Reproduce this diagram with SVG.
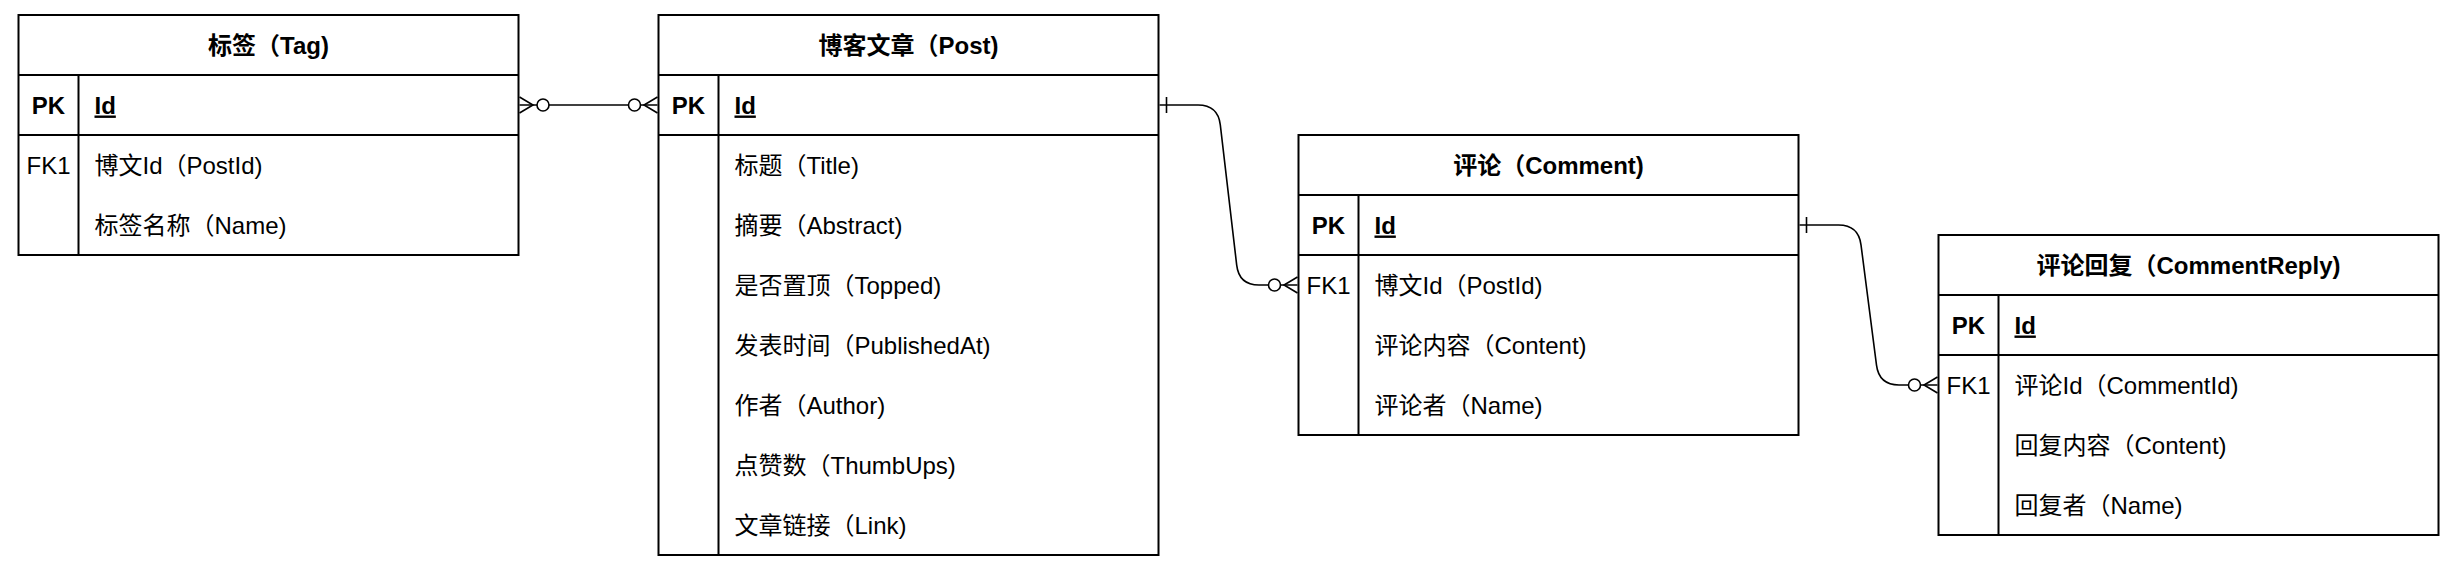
<svg xmlns="http://www.w3.org/2000/svg" width="2456" height="572" viewBox="0 0 2456 572">
<style>
.box{fill:#fff;stroke:#000;stroke-width:2}
.ln{stroke:#000;stroke-width:2;fill:none}
.t{font-family:"Liberation Sans","Noto Sans CJK SC",sans-serif;font-size:24px;fill:#000}
.title{font-weight:bold;text-anchor:middle}
.key{text-anchor:middle}
.b{font-weight:bold}
.u{text-decoration:underline}
.edge{stroke:#000;stroke-width:1.6;fill:none}
.circ{stroke:#000;stroke-width:1.6;fill:#fff}
</style>
<rect width="2456" height="572" fill="#fff"/>

<g id="tag">
<rect class="box" x="18.5" y="15" width="500" height="240"/>
<line class="ln" x1="18.5" y1="75" x2="518.5" y2="75"/>
<line class="ln" x1="18.5" y1="135" x2="518.5" y2="135"/>
<line class="ln" x1="78.5" y1="75" x2="78.5" y2="255"/>
<text class="t title" x="268.5" y="54">标签（Tag)</text>
<text class="t key b" x="48.5" y="113.5">PK</text>
<text class="t b u" x="94.5" y="113.5">Id</text>
<text class="t key" x="48.5" y="173.5">FK1</text>
<text class="t" x="94.5" y="173.5">博文Id（PostId)</text>
<text class="t" x="94.5" y="233.5">标签名称（Name)</text>
</g>

<g id="post">
<rect class="box" x="658.5" y="15" width="500" height="540"/>
<line class="ln" x1="658.5" y1="75" x2="1158.5" y2="75"/>
<line class="ln" x1="658.5" y1="135" x2="1158.5" y2="135"/>
<line class="ln" x1="718.5" y1="75" x2="718.5" y2="555"/>
<text class="t title" x="908.5" y="54">博客文章（Post)</text>
<text class="t key b" x="688.5" y="113.5">PK</text>
<text class="t b u" x="734.5" y="113.5">Id</text>
<text class="t" x="734.5" y="173.5">标题（Title)</text>
<text class="t" x="734.5" y="233.5">摘要（Abstract)</text>
<text class="t" x="734.5" y="293.5">是否置顶（Topped)</text>
<text class="t" x="734.5" y="353.5">发表时间（PublishedAt)</text>
<text class="t" x="734.5" y="413.5">作者（Author)</text>
<text class="t" x="734.5" y="473.5">点赞数（ThumbUps)</text>
<text class="t" x="734.5" y="533.5">文章链接（Link)</text>
</g>

<g id="comment">
<rect class="box" x="1298.5" y="135" width="500" height="300"/>
<line class="ln" x1="1298.5" y1="195" x2="1798.5" y2="195"/>
<line class="ln" x1="1298.5" y1="255" x2="1798.5" y2="255"/>
<line class="ln" x1="1358.5" y1="195" x2="1358.5" y2="435"/>
<text class="t title" x="1548.5" y="174">评论（Comment)</text>
<text class="t key b" x="1328.5" y="233.5">PK</text>
<text class="t b u" x="1374.5" y="233.5">Id</text>
<text class="t key" x="1328.5" y="293.5">FK1</text>
<text class="t" x="1374.5" y="293.5">博文Id（PostId)</text>
<text class="t" x="1374.5" y="353.5">评论内容（Content)</text>
<text class="t" x="1374.5" y="413.5">评论者（Name)</text>
</g>

<g id="commentreply">
<rect class="box" x="1938.5" y="235" width="500" height="300"/>
<line class="ln" x1="1938.5" y1="295" x2="2438.5" y2="295"/>
<line class="ln" x1="1938.5" y1="355" x2="2438.5" y2="355"/>
<line class="ln" x1="1998.5" y1="295" x2="1998.5" y2="535"/>
<text class="t title" x="2188.5" y="274">评论回复（CommentReply)</text>
<text class="t key b" x="1968.5" y="333.5">PK</text>
<text class="t b u" x="2014.5" y="333.5">Id</text>
<text class="t key" x="1968.5" y="393.5">FK1</text>
<text class="t" x="2014.5" y="393.5">评论Id（CommentId)</text>
<text class="t" x="2014.5" y="453.5">回复内容（Content)</text>
<text class="t" x="2014.5" y="513.5">回复者（Name)</text>
</g>

<g id="connectors">
<!-- Tag - Post (many to many) -->
<path class="edge" d="M519.5,105 L657.5,105"/>
<path class="edge" d="M519.5,97 L533,105 L519.5,113"/>
<circle class="circ" cx="543" cy="105" r="6"/>
<path class="edge" d="M657.5,97 L644,105 L657.5,113"/>
<circle class="circ" cx="634.5" cy="105" r="6"/>

<!-- Post - Comment -->
<path class="edge" d="M1159.5,105 L1198,105 Q1218,105 1220.3,124.9 L1236.7,265.1 Q1239,285 1259,285 L1297.5,285"/>
<line class="edge" x1="1166.5" y1="97" x2="1166.5" y2="113"/>
<path class="edge" d="M1297.5,277 L1284,285 L1297.5,293"/>
<circle class="circ" cx="1274.5" cy="285" r="6"/>

<!-- Comment - CommentReply -->
<path class="edge" d="M1799.5,225 L1838.5,225 Q1858.5,225 1861,244.8 L1876.5,365.2 Q1879,385 1899,385 L1937.5,385"/>
<line class="edge" x1="1806.5" y1="217" x2="1806.5" y2="233"/>
<path class="edge" d="M1937.5,377 L1924,385 L1937.5,393"/>
<circle class="circ" cx="1914.5" cy="385" r="6"/>
</g>
</svg>
